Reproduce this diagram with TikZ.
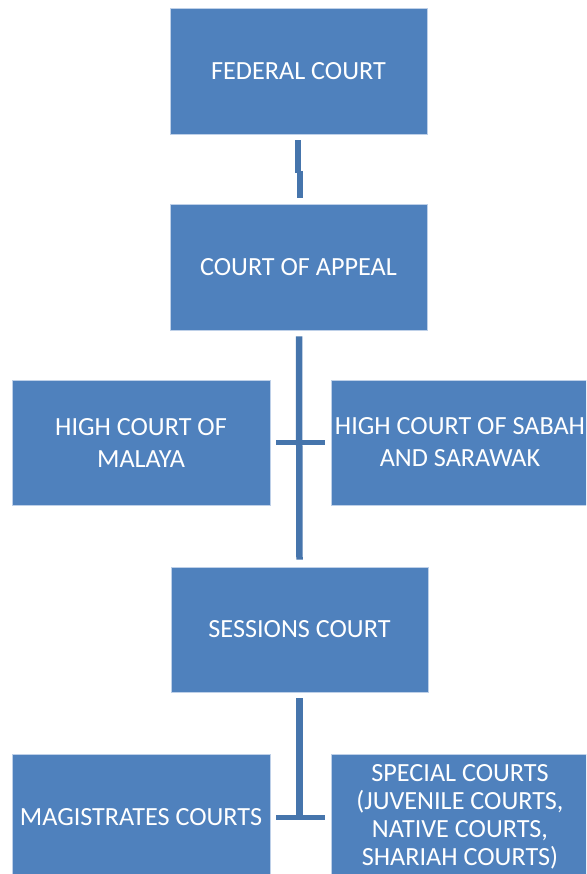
\documentclass[tikz,border=0pt]{standalone}
\usepackage{fontspec}
\setmainfont{Carlito}
\definecolor{boxblue}{RGB}{79,129,189}
\definecolor{boxedge}{RGB}{190,208,232}
\definecolor{linkblue}{RGB}{70,117,172}
\tikzset{
  court/.style={rectangle, fill=boxblue, draw=boxedge, line width=0.8pt,
    text=white, align=center, inner sep=0pt,
    font=\fontsize{26.2}{32}\selectfont},
  tight/.style={font=\fontsize{26.2}{28}\selectfont},
  link/.style={draw=linkblue, line width=6.5pt},
  bar/.style={draw=linkblue, line width=5pt}
}
\begin{document}
\begin{tikzpicture}[x=1pt,y=-1pt]
\useasboundingbox (0,0) rectangle (586,874);
\clip (0,0) rectangle (586,874);
\node[court, minimum width=257, minimum height=126] (fed) at (298.5,71) {FEDERAL COURT};
\node[court, minimum width=257, minimum height=126] (coa) at (298.5,267) {COURT OF APPEAL};
\node[court, minimum width=258, minimum height=125] (hcm) at (141,442.5) {HIGH COURT OF\\MALAYA};
\node[court, minimum width=258, minimum height=125] (hcs) at (460,442.5) {HIGH COURT OF SABAH\\AND SARAWAK};
\node[court, minimum width=257, minimum height=125] (ses) at (299.5,629.5) {SESSIONS COURT};
\node[court, minimum width=258, minimum height=126] (mag) at (141,817) {MAGISTRATES COURTS};
\node[court, tight, minimum width=258, minimum height=126] (spc) at (460,817) {SPECIAL COURTS\\(JUVENILE COURTS,\\NATIVE COURTS,\\SHARIAH COURTS)};
% Federal -> Appeal (with slight jog)
\coordinate (j1) at ([xshift=-0.5pt]fed.south |- 0,173);
\coordinate (j2) at ([xshift=1pt]coa.north |- 0,171);
\draw[link,line width=6pt] ([xshift=-0.5pt,yshift=-6pt]fed.south) -- (j1);
\draw[link,line width=6pt] (j2) -- ([xshift=1pt,yshift=6pt]coa.north);
% Appeal -> Sessions spine, High courts bar
\draw[link] ([xshift=0.5pt,yshift=-6pt]coa.south) -- ([yshift=7pt]ses.north);
\draw[bar] ([xshift=6pt]hcm.east) -- ([xshift=-6pt]hcs.west);
% Sessions -> lower courts
\coordinate (t) at (ses.south |- mag.east);
\draw[link] ([yshift=-6pt]ses.south) -- ([yshift=-2.5pt]t);
\draw[bar] ([xshift=6pt]mag.east) -- ([xshift=-6pt]spc.west);
\end{tikzpicture}
\end{document}
